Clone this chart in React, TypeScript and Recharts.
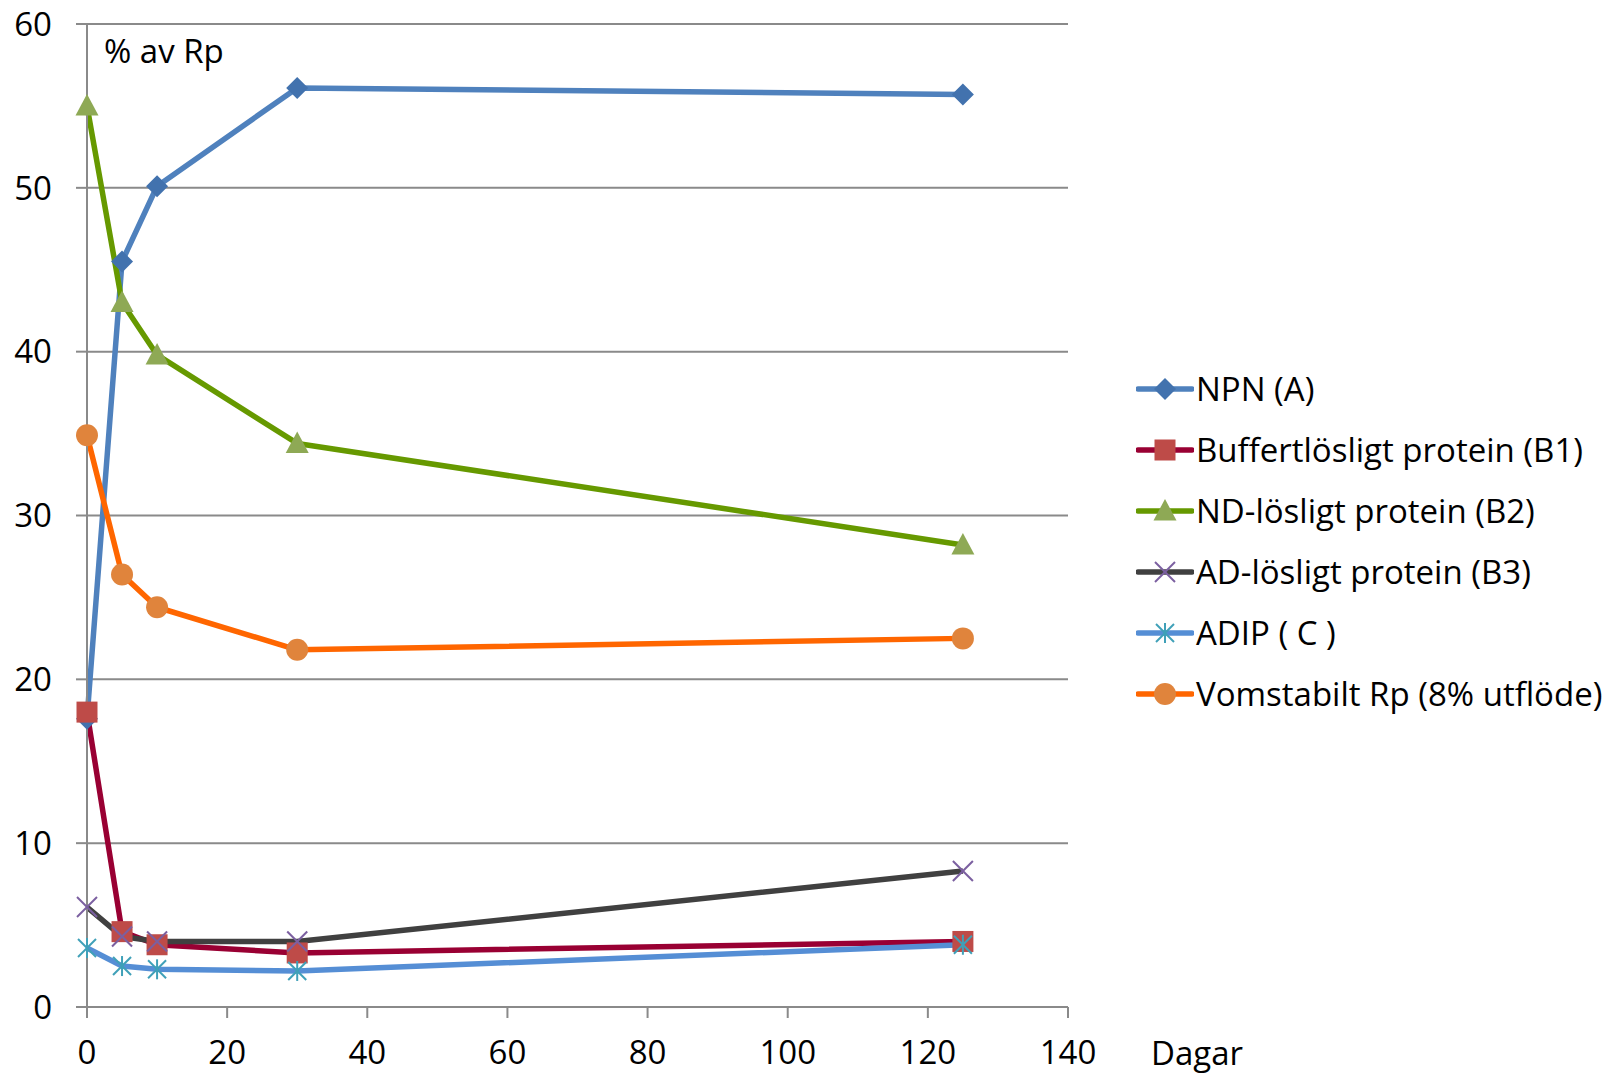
import React from "react";
import { LineChart, Line, XAxis, YAxis, CartesianGrid, Legend } from "recharts";

// Days after start, and % of Rp for each fraction
const days = [0, 5, 10, 30, 125];
const npn = [17.6, 45.5, 50.1, 56.1, 55.7];
const buffert = [18.0, 4.6, 3.8, 3.3, 4.0];
const ndLosligt = [55.0, 43.0, 39.8, 34.4, 28.2];
const adLosligt = [6.1, 4.3, 4.0, 4.0, 8.3];
const adip = [3.6, 2.5, 2.3, 2.2, 3.8];
const vomstabilt = [34.9, 26.4, 24.4, 21.8, 22.5];

const xTicks = [0, 20, 40, 60, 80, 100, 120, 140];
const yTicks = [0, 10, 20, 30, 40, 50, 60];

type Shape = "diamond" | "square" | "triangle" | "x" | "star" | "circle";

const series: { key: string; name: string; values: number[]; line: string; marker: string; shape: Shape }[] = [
  { key: "npn", name: "NPN (A)", values: npn, line: "#4F81BD", marker: "#4272AE", shape: "diamond" },
  { key: "b1", name: "Buffertlösligt protein (B1)", values: buffert, line: "#990033", marker: "#BE4B48", shape: "square" },
  { key: "b2", name: "ND-lösligt protein (B2)", values: ndLosligt, line: "#669900", marker: "#8EA955", shape: "triangle" },
  { key: "b3", name: "AD-lösligt protein (B3)", values: adLosligt, line: "#404040", marker: "#7B5FA0", shape: "x" },
  { key: "c", name: "ADIP ( C )", values: adip, line: "#558ED5", marker: "#3FA0B8", shape: "star" },
  { key: "vom", name: "Vomstabilt Rp (8% utflöde)", values: vomstabilt, line: "#FF6600", marker: "#E0843C", shape: "circle" },
];

const data = days.map((d, i) => {
  const row: Record<string, number> = { day: d };
  series.forEach((s) => (row[s.key] = s.values[i]));
  return row;
});

const FONT = "'Open Sans', Lato, sans-serif";
const FS = 33;
const GRID = "#8a8a8a";

function Marker({ shape, cx, cy, color }: { shape: Shape; cx: number; cy: number; color: string }) {
  switch (shape) {
    case "diamond":
      return <polygon points={`${cx},${cy - 11} ${cx + 11},${cy} ${cx},${cy + 11} ${cx - 11},${cy}`} fill={color} />;
    case "square":
      return <rect x={cx - 10.5} y={cy - 10.5} width={21} height={21} fill={color} />;
    case "triangle":
      return <polygon points={`${cx},${cy - 12} ${cx + 11.5},${cy + 9.5} ${cx - 11.5},${cy + 9.5}`} fill={color} />;
    case "x":
      return (
        <g stroke={color} strokeWidth={2}>
          <line x1={cx - 10} y1={cy - 10} x2={cx + 10} y2={cy + 10} />
          <line x1={cx - 10} y1={cy + 10} x2={cx + 10} y2={cy - 10} />
        </g>
      );
    case "star":
      return (
        <g stroke={color} strokeWidth={2}>
          <line x1={cx - 9} y1={cy - 9} x2={cx + 9} y2={cy + 9} />
          <line x1={cx - 9} y1={cy + 9} x2={cx + 9} y2={cy - 9} />
          <line x1={cx} y1={cy - 10} x2={cx} y2={cy + 10} />
        </g>
      );
    default:
      return <circle cx={cx} cy={cy} r={11} fill={color} />;
  }
}

const LegendContent = () => (
  <div style={{ fontFamily: FONT, fontSize: FS, color: "#000" }}>
    {series.map((s) => (
      <div key={s.key} style={{ display: "flex", alignItems: "center", height: 61 }}>
        <svg width={58} height={30} style={{ display: "block" }}>
          <line x1={2} y1={15} x2={56} y2={15} stroke={s.line} strokeWidth={5.5} strokeLinecap="round" />
          <Marker shape={s.shape} cx={29} cy={15} color={s.marker} />
        </svg>
        <span style={{ marginLeft: 2, whiteSpace: "nowrap", lineHeight: 1 }}>{s.name}</span>
      </div>
    ))}
  </div>
);

export default function App() {
  return (
    <div style={{ position: "absolute", left: 0, top: 0, width: 1609, height: 1074, background: "#fff", fontFamily: FONT }}>
      <LineChart
        width={1609}
        height={1074}
        data={data}
        margin={{ top: 24, right: 541, bottom: 0, left: 0 }}
      >
        <CartesianGrid vertical={false} stroke={GRID} strokeWidth={2} />
        <XAxis
          dataKey="day"
          type="number"
          domain={[0, 140]}
          ticks={xTicks}
          height={67}
          stroke={GRID}
          strokeWidth={2}
          tickSize={11}
          tickMargin={23}
          tick={{ fill: "#000", fontSize: FS }}
          interval={0}
        />
        <YAxis
          type="number"
          domain={[0, 60]}
          ticks={yTicks}
          width={87}
          stroke={GRID}
          strokeWidth={2}
          tickSize={11}
          tickMargin={24}
          tick={{ fill: "#000", fontSize: FS }}
          interval={0}
        />
        <Legend
          layout="vertical"
          align="center"
          verticalAlign="middle"
          content={<LegendContent />}
          wrapperStyle={{ left: 1136, top: 358, width: 473 }}
        />
        {series.map((s) => (
          <Line
            key={s.key}
            dataKey={s.key}
            name={s.name}
            type="linear"
            stroke={s.line}
            strokeWidth={5.5}
            strokeLinejoin="round"
            isAnimationActive={false}
            activeDot={false}
            dot={(p: any) => <Marker key={`${s.key}-${p.index}`} shape={s.shape} cx={p.cx} cy={p.cy} color={s.marker} />}
          />
        ))}
      </LineChart>
      <div style={{ position: "absolute", left: 104, top: 34, fontSize: FS, lineHeight: 1, color: "#000" }}>% av Rp</div>
      <div style={{ position: "absolute", left: 1151, top: 1036, fontSize: FS, lineHeight: 1, color: "#000" }}>Dagar</div>
    </div>
  );
}
